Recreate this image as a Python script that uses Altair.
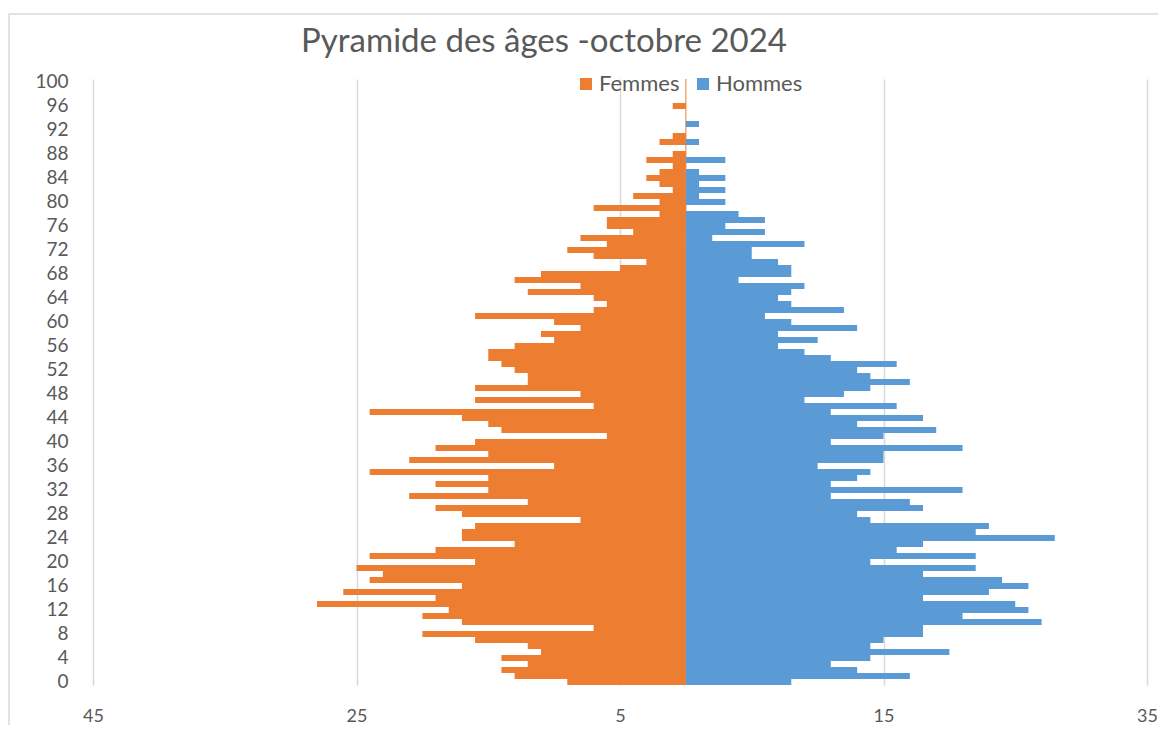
import altair as alt
import pandas as pd

# Ages 0..100
ages = list(range(0, 101))

femmes = [9, 13, 14, 12, 14, 11, 12, 16, 20, 7,
          17, 20, 18, 28, 19, 26, 17, 24, 23, 25,
          16, 24, 19, 13, 17, 17, 16, 8, 17, 19,
          12, 21, 15, 19, 15, 24, 10, 21, 15, 19,
          16, 6, 14, 15, 17, 24, 7, 16, 8, 16,
          12, 12, 13, 14, 15, 15, 13, 10, 11, 8,
          10, 16, 7, 6, 7, 12, 8, 13, 11, 5,
          3, 7, 9, 6, 8, 4, 6, 6, 2, 7,
          2, 4, 1, 2, 3, 2, 1, 3, 1, 0,
          2, 1, 0, 0, 0, 0, 1, 0, 0, 0, 0]

hommes = [8, 17, 13, 11, 14, 20, 14, 15, 18, 18,
          27, 21, 26, 25, 18, 23, 26, 24, 18, 22,
          14, 22, 16, 18, 28, 22, 23, 14, 13, 18,
          17, 11, 21, 11, 13, 14, 10, 15, 15, 21,
          11, 15, 19, 13, 18, 11, 16, 9, 12, 14,
          17, 14, 13, 16, 11, 9, 7, 10, 7, 13,
          8, 6, 12, 8, 7, 8, 9, 4, 8, 8,
          7, 5, 5, 9, 2, 6, 3, 6, 4, 0,
          3, 1, 3, 1, 3, 1, 0, 3, 0, 0,
          1, 0, 0, 1, 0, 0, 0, 0, 0, 0, 0]

series = ["Femmes", "Hommes"]
colors = ["#ED7D31", "#5B9BD5"]
x_ticks = [-45, -25, -5, 15, 35]
y_ticks = list(range(0, 101, 4))
title_text = "Pyramide des âges -octobre 2024"

rows = []
for a, f, h in zip(ages, femmes, hommes):
    rows.append({"age": a, "sexe": "Femmes", "v": -f})
    rows.append({"age": a, "sexe": "Hommes", "v": h})
df = pd.DataFrame(rows)

FONT = "Lato"
GREY = "#595959"

x_scale = alt.Scale(domain=[-45, 35], nice=False, zero=False)
y_scale = alt.Scale(domain=list(range(100, -1, -1)), paddingInner=0, paddingOuter=0)

frame = alt.Chart(pd.DataFrame({"k": [0]})).mark_rect(
    fill="transparent", fillOpacity=0, stroke="#d9d9d9", strokeWidth=1.5
).encode(
    x=alt.value(-84), x2=alt.value(1200),
    y=alt.value(-65), y2=alt.value(800)
)

title = alt.Chart(pd.DataFrame({"t": [title_text]})).mark_text(
    font=FONT, fontSize=33, color=GREY, align="center", baseline="alphabetic"
).encode(text="t:N", x=alt.value(451), y=alt.value(-27))

axis_line = alt.Chart(pd.DataFrame({"x": [0]})).mark_rule(
    color="#ED7D31", strokeWidth=1
).encode(x=alt.X("x:Q", scale=x_scale))

bars = alt.Chart(df).mark_bar(strokeWidth=0).encode(
    y=alt.Y("age:O", scale=y_scale, title=None,
            axis=alt.Axis(values=y_ticks, ticks=False, domain=False, grid=False,
                          labelPadding=25, labelFont=FONT, labelFontSize=19,
                          labelColor=GREY, labelAngle=0)),
    x=alt.X("v:Q", scale=x_scale, title=None,
            axis=alt.Axis(values=x_ticks, ticks=False, domain=False, grid=True,
                          gridColor="#d9d9d9", gridWidth=1.5, labelFlush=False,
                          labelExpr="format(abs(datum.value), 'd')",
                          labelPadding=22, labelFont=FONT, labelFontSize=18,
                          labelColor=GREY)),
    x2=alt.datum(0),
    color=alt.Color("sexe:N", scale=alt.Scale(domain=series, range=colors), title=None,
                    legend=alt.Legend(orient="none", legendX=482, legendY=-6,
                                      direction="horizontal", symbolType="square",
                                      symbolSize=144, symbolStrokeWidth=0,
                                      labelFont=FONT, labelFontSize=22,
                                      labelColor=GREY, columnPadding=12,
                                      labelOffset=2)),
)

chart = alt.layer(frame, title, axis_line, bars).properties(
    width=1054, height=606,
    autosize=alt.AutoSizeParams(type="none"),
    padding={"left": 85, "top": 71, "right": 11, "bottom": 40},
).configure_view(stroke=None)

chart.save("out.html", embed_options={"renderer": "svg", "actions": False})
